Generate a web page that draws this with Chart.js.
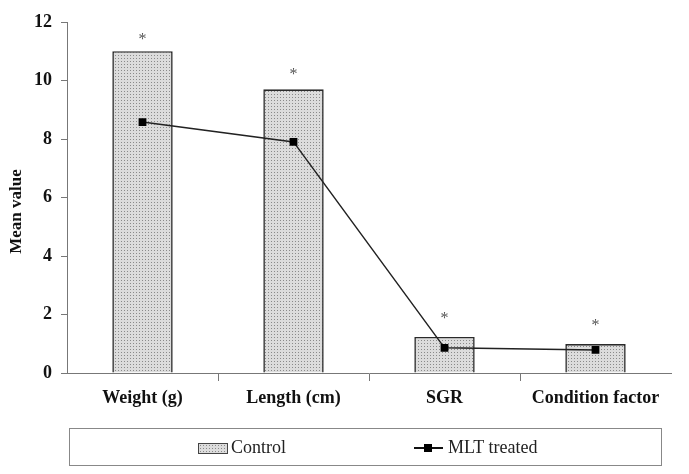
<!DOCTYPE html>
<html>
<head>
<meta charset="utf-8">
<script src="https://cdn.jsdelivr.net/npm/chart.js@4.4.1/dist/chart.umd.min.js"></script>
<style>
  body { margin: 0; background: #fff; }
  #wrap { position: relative; width: 689px; height: 474px; }
  #legend { position: absolute; left: 69px; top: 428px; width: 591px; height: 36px; border: 1.5px solid #888; font-family: "Liberation Serif", serif; font-size: 18px; color: #222; }
  #legend .item { position: absolute; top: 7px; line-height: 22px; }
  #swatch { position: absolute; left: 128px; top: 14px; width: 28px; height: 9px; border: 1px solid #444; }
  #lineKey { position: absolute; left: 344px; top: 18px; width: 29px; height: 2px; background: #111; }
  #lineKey span { position: absolute; left: 10px; top: -3px; width: 8px; height: 8px; background: #000; }
</style>
</head>
<body>
<div id="wrap">
  <canvas id="chart" width="689" height="474"></canvas>
  <div id="legend">
    <div id="swatch"></div><div class="item" style="left:161px">Control</div>
    <div id="lineKey"><span></span></div><div class="item" style="left:378px">MLT treated</div>
  </div>
</div>
<script>
// data
const categories = ['Weight (g)', 'Length (cm)', 'SGR', 'Condition factor'];
const controlValues = [11.0, 9.7, 1.23, 0.99];
const mltValues = [8.58, 7.9, 0.86, 0.79];
const starLabels = ['*', '*', '*', '*'];
const starLevels = [11.5, 10.3, 1.95, 1.71];
const yTicks = [0, 2, 4, 6, 8, 10, 12];
const yTitle = 'Mean value';

// stippled grey fill like the original bars
function makeDots() {
  const c = document.createElement('canvas');
  c.width = 3; c.height = 3;
  const g = c.getContext('2d');
  g.fillStyle = '#dcdcdc';
  g.fillRect(0, 0, 3, 3);
  g.fillStyle = '#8a8a8a';
  g.fillRect(1, 1, 1, 1);
  return c;
}
const dotTile = makeDots();
const ctx = document.getElementById('chart').getContext('2d');
const dotPattern = ctx.createPattern(dotTile, 'repeat');
document.getElementById('swatch').style.background = 'url(' + dotTile.toDataURL() + ')';

const serif = '"Liberation Serif", "Times New Roman", serif';

const starPlugin = {
  id: 'stars',
  afterDatasetsDraw(chart) {
    const meta = chart.getDatasetMeta(1);
    const y = chart.scales.y;
    const c = chart.ctx;
    c.save();
    c.font = '16px ' + serif;
    c.fillStyle = '#555';
    c.textAlign = 'center';
    c.textBaseline = 'middle';
    meta.data.forEach((bar, i) => {
      c.fillText(starLabels[i], bar.x, y.getPixelForValue(starLevels[i]) + 3);
    });
    c.restore();
  }
};

// y title sits a little below the middle of the axis in the original
const yTitlePlugin = {
  id: 'yTitle',
  afterDraw(chart) {
    const area = chart.chartArea;
    const c = chart.ctx;
    c.save();
    c.translate(chart.scales.y.left + 10, (area.top + area.bottom) / 2 + 14);
    c.rotate(-Math.PI / 2);
    c.font = 'bold 17px ' + serif;
    c.fillStyle = '#111';
    c.textAlign = 'center';
    c.textBaseline = 'middle';
    c.fillText(yTitle, 0, 0);
    c.restore();
  }
};

const edgeTick = (c) => (c.type !== 'tick' || c.index === 0) ? 'rgba(0,0,0,0)' : '#777';

new Chart(ctx, {
  type: 'bar',
  data: {
    labels: categories,
    datasets: [
      { type: 'line', label: 'MLT treated', data: mltValues, borderColor: '#222', borderWidth: 1.5, pointStyle: 'rect', pointRadius: 5.5, pointBackgroundColor: '#000', pointBorderColor: '#000', pointBorderWidth: 0, tension: 0, order: 0 },
      { label: 'Control', data: controlValues, backgroundColor: dotPattern, borderColor: '#2a2a2a', borderWidth: 1.6, barPercentage: 0.4, categoryPercentage: 1, order: 1 }
    ]
  },
  options: {
    responsive: false,
    animation: false,
    layout: { padding: { left: 7, right: 18, top: 22, bottom: 0 } },
    plugins: { legend: { display: false }, tooltip: { enabled: false } },
    scales: {
      x: {
        grid: { offset: true, drawOnChartArea: false, tickLength: 8, color: edgeTick, tickColor: edgeTick },
        border: { color: '#777', width: 1 },
        ticks: { font: { family: serif, size: 18, weight: 'bold' }, color: '#111', padding: 7, maxRotation: 0 },
        afterFit(scale) { scale.height = 101; }
      },
      y: {
        min: 0, max: 12,
        afterBuildTicks(scale) { scale.ticks = yTicks.map(v => ({ value: v })); },
        grid: { drawOnChartArea: false, tickLength: 6, color: '#777' },
        border: { color: '#777', width: 1 },
        ticks: { font: { family: serif, size: 18, weight: 'bold' }, color: '#111', padding: 9 },
        afterFit(scale) { scale.width = 60; }
      }
    }
  },
  plugins: [starPlugin, yTitlePlugin]
});
</script>
</body>
</html>
